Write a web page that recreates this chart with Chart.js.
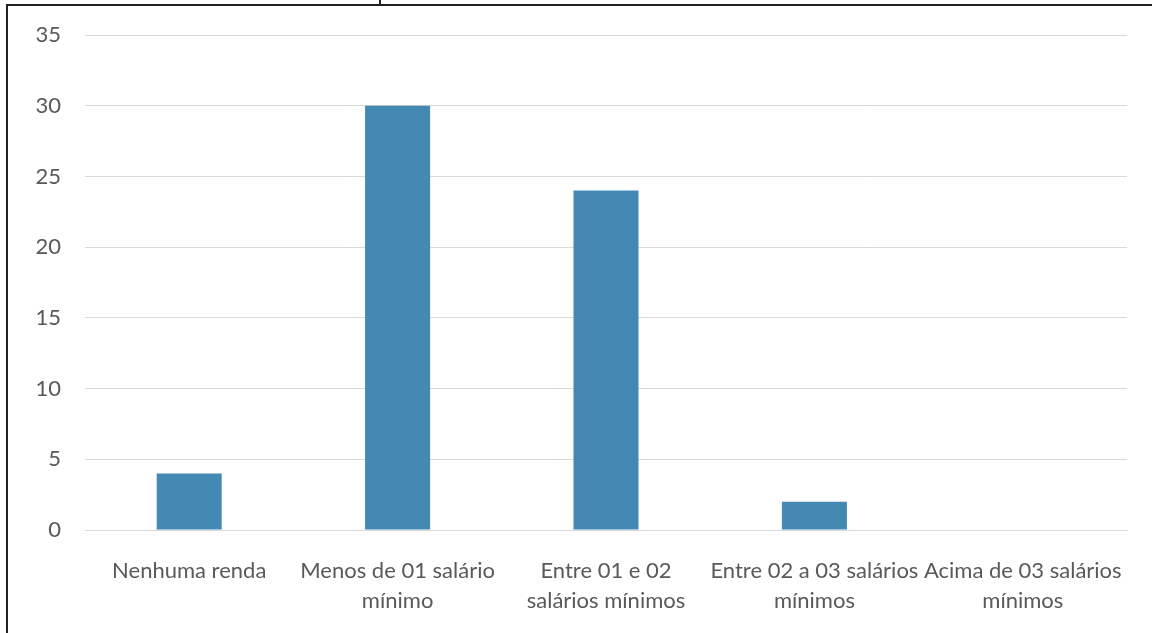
<!DOCTYPE html>
<html>
<head>
<meta charset="utf-8">
<script src="https://cdn.jsdelivr.net/npm/chart.js@4"></script>
<style>
  html, body { margin: 0; padding: 0; background: #fff; }
  #wrap { width: 1152px; height: 633px; position: relative; }
</style>
</head>
<body>
<div id="wrap"><canvas id="renda"></canvas></div>
<script>
// faixas de renda (eixo x)
const categorias = [
  "Nenhuma renda",
  ["Menos de 01 salário", "mínimo"],
  ["Entre 01 e 02", "salários mínimos"],
  ["Entre 02 a 03 salários", "mínimos"],
  ["Acima de 03 salários", "mínimos"]
];
const valores = [4, 30, 24, 2, 0];
const ticksY = [0, 5, 10, 15, 20, 25, 30, 35];

// moldura parcial (recorte do documento original)
const moldura = {
  id: "moldura",
  afterDraw(chart) {
    const c = chart.ctx;
    c.save();
    c.strokeStyle = "#222";
    c.lineWidth = 2;
    c.beginPath();
    c.moveTo(6, 5); c.lineTo(1152, 5);
    c.moveTo(7, 4); c.lineTo(7, 633);
    c.moveTo(380, 0); c.lineTo(380, 5);
    c.stroke();
    c.restore();
  }
};

const ctx = document.getElementById("renda").getContext("2d");
new Chart(ctx, {
  type: "bar",
  data: {
    labels: categorias,
    datasets: [{
      data: valores,
      backgroundColor: "#4389b4",
      categoryPercentage: 1,
      barPercentage: 0.312
    }]
  },
  options: {
    responsive: true,
    maintainAspectRatio: false,
    animation: false,
    layout: { padding: { top: 34, right: 25, left: 0, bottom: 0 } },
    plugins: { legend: { display: false }, tooltip: { enabled: false } },
    scales: {
      x: {
        grid: { display: false, drawTicks: false },
        border: { display: true, color: "#d9d9d9", width: 1 },
        ticks: {
          color: "#595959",
          font: { family: "Lato", size: 22, lineHeight: 1.36 },
          padding: 26,
          maxRotation: 0,
          autoSkip: false
        },
        afterFit(scale) { scale.height = 103; }
      },
      y: {
        min: 0,
        max: 35,
        afterBuildTicks(scale) { scale.ticks = ticksY.map(v => ({ value: v })); },
        grid: { color: "#d9d9d9", drawTicks: false },
        border: { display: false },
        ticks: {
          color: "#595959",
          font: { family: "Lato", size: 22, lineHeight: 1 },
          padding: 24
        },
        afterFit(scale) { scale.width = 85; }
      }
    }
  },
  plugins: [moldura]
});
</script>
</body>
</html>
